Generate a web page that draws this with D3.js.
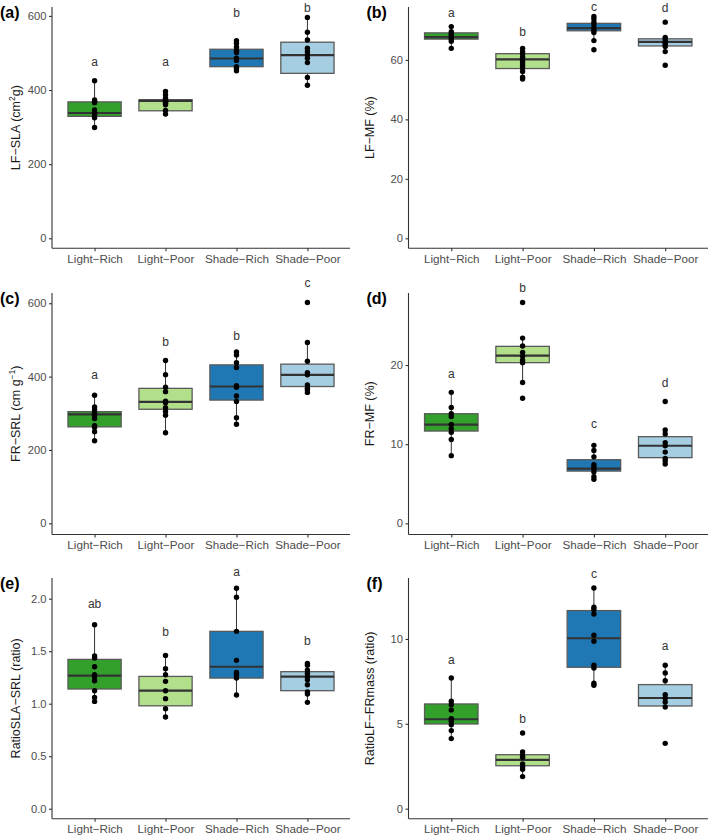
<!DOCTYPE html>
<html><head><meta charset="utf-8">
<script src="https://cdn.jsdelivr.net/npm/d3@7"></script>
<style>
html,body{margin:0;padding:0;background:#fff;}
svg{display:block;font-family:"Liberation Sans",Arial,Helvetica,sans-serif;}
</style></head>
<body>
<svg id="chart" width="709" height="838"></svg>
<script>
// ---------- DATA ----------
const categories = ["Light\u2212Rich","Light\u2212Poor","Shade\u2212Rich","Shade\u2212Poor"];
const groupColors = ["#33a02c","#b2df8a","#1f78b4","#a6cee3"];

// (a) LF-SLA
const slaPoints = [
  [425,373,369,366,346,338,335,330,325,299],
  [396,387,378,373,370,367,364,360,345,335],
  [533,526,516,506,501,486,480,463,458,452],
  [596,556,535,513,504,495,486,474,434,413]];
const slaBoxes = [[329,338,368],[344,371,374],[463,485,510],[445,494,529]];
const slaLetters = ["a","a","b","b"];
const slaLetterY = [477,477,609,621];
const slaTicks = [0,200,400,600];

// (b) LF-MF
const lfmfPoints = [
  [71.2,69.5,68.7,68.1,67.5,67.0,66.3,63.9],
  [63.9,62.8,62.0,60.9,60.0,59.1,58.2,57.3,56.1,54.2,53.6],
  [74.6,73.8,72.7,71.8,70.7,69.9,69.2,66.5,63.4],
  [72.7,67.6,66.7,65.9,65.3,64.5,62.8,58.2]];
const lfmfBoxes = [[67.0,67.7,69.1],[57.1,60.2,62.1],[69.8,70.7,72.3],[64.7,66.1,67.1]];
const lfmfLetters = ["a","b","c","d"];
const lfmfLetterY = [75.7,69.5,77.7,77.4];
const lfmfTicks = [0,20,40,60];

// (c) FR-SRL
const srlPoints = [
  [349,317,309,302,295,286,266,261,250,225],
  [444,405,371,359,333,329,315,305,295,247],
  [467,459,438,425,375,371,347,332,288,270],
  [602,493,442,411,405,377,368,364,357]];
const srlBoxes = [[263,297,304.5],[311,331,368],[336,373,432],[373,405,434]];
const srlLetters = ["a","b","b","c"];
const srlLetterY = [406,495,511,656];
const srlTicks = [0,200,400,600];

// (d) FR-MF
const frmfPoints = [
  [16.55,14.65,13.85,13.5,12.5,11.96,11.5,10.6,8.55],
  [27.9,23.4,22.4,21.6,21.1,20.6,20.3,17.8,15.8],
  [9.85,9.2,8.4,7.4,7.15,6.86,6.5,5.9,5.56],
  [15.4,11.8,11.3,10.2,9.8,9.0,8.2,7.9,7.5]];
const frmfBoxes = [[11.66,12.46,13.85],[20.3,21.2,22.36],[6.6,6.9,8.04],[8.3,9.8,10.95]];
const frmfLetters = ["a","b","c","d"];
const frmfLetterY = [18.9,29.7,12.55,17.8];
const frmfTicks = [0,10,20];

// (e) RatioSLA-SRL
const ratioSrlPoints = [
  [1.752,1.454,1.435,1.352,1.276,1.254,1.219,1.124,1.06,1.022],
  [1.46,1.333,1.276,1.213,1.124,1.048,0.952,0.873],
  [2.10,2.013,1.689,1.413,1.298,1.276,1.244,1.083],
  [1.384,1.365,1.32,1.289,1.257,1.229,1.181,1.111,1.092,1.013]];
const ratioSrlBoxes = [[1.14,1.267,1.422],[0.98,1.124,1.26],[1.244,1.352,1.689],[1.124,1.257,1.305]];
const ratioSrlLetters = ["ab","b","a","b"];
const ratioSrlLetterY = [1.952,1.689,2.254,1.603];
const ratioSrlTicks = [0,0.5,1.0,1.5,2.0];

// (f) RatioLF-FRmass
const ratioMassPoints = [
  [7.70,6.33,6.13,5.82,5.30,5.15,4.95,4.60,4.13],
  [4.46,3.34,3.14,3.03,2.63,2.48,2.32,1.89],
  [13.0,11.87,11.73,11.47,10.22,9.86,8.45,8.29,7.39,7.27],
  [8.45,8.0,7.54,6.72,6.52,6.29,5.99,3.85]];
const ratioMassBoxes = [[4.99,5.27,6.17],[2.53,2.87,3.18],[8.33,10.04,11.67],[6.05,6.52,7.31]];
const ratioMassLetters = ["a","b","c","a"];
const ratioMassLetterY = [8.78,5.30,13.83,9.57];
const ratioMassTicks = [0,5,10];

// ---------- PANELS ----------
const panels = [
  {tag:"(a)", title:["LF\u2212SLA (cm","2","g)"], pts:slaPoints, box:slaBoxes, let:slaLetters, letY:slaLetterY, ticks:slaTicks, fmt:d3.format("d"), dom:[-27,624], col:0, row:0},
  {tag:"(b)", title:["LF\u2212MF (%)"], pts:lfmfPoints, box:lfmfBoxes, let:lfmfLetters, letY:lfmfLetterY, ticks:lfmfTicks, fmt:d3.format("d"), dom:[-3.36,77.8], col:1, row:0},
  {tag:"(c)", title:["FR\u2212SRL (cm g","\u22121",")"], pts:srlPoints, box:srlBoxes, let:srlLetters, letY:srlLetterY, ticks:srlTicks, fmt:d3.format("d"), dom:[-30.5,628], col:0, row:1},
  {tag:"(d)", title:["FR\u2212MF (%)"], pts:frmfPoints, box:frmfBoxes, let:frmfLetters, letY:frmfLetterY, ticks:frmfTicks, fmt:d3.format("d"), dom:[-1.41,29.1], col:1, row:1},
  {tag:"(e)", title:["RatioSLA\u2212SRL (ratio)"], pts:ratioSrlPoints, box:ratioSrlBoxes, let:ratioSrlLetters, letY:ratioSrlLetterY, ticks:ratioSrlTicks, fmt:d3.format(".1f"), dom:[-0.095,2.197], col:0, row:2},
  {tag:"(f)", title:["RatioLF\u2212FRmass (ratio)"], pts:ratioMassPoints, box:ratioMassBoxes, let:ratioMassLetters, letY:ratioMassLetterY, ticks:ratioMassTicks, fmt:d3.format("d"), dom:[-0.59,13.59], col:1, row:2}
];

const colX = [{x0:0, left:52, right:350},{x0:354, left:408.5, right:708}];
const rowY = [{top:7, bottom:248.3},{top:293, bottom:534.5},{top:578, bottom:818.7}];

const svg = d3.select("#chart");
const axisCol = "#333";
const tickTextCol = "#4d4d4d";

panels.forEach(p => {
  const c = colX[p.col], r = rowY[p.row];
  const g = svg.append("g");
  const x = d3.scalePoint().domain(categories).range([c.left, c.right]).padding(0.6);
  const y = d3.scaleLinear().domain(p.dom).range([r.bottom, r.top]);
  const bw = x.step()*0.75;

  categories.forEach((cat, i) => {
    const [q1, med, q3] = p.box[i];
    const iqr = q3 - q1;
    const pts = p.pts[i];
    const inside = pts.filter(v => v >= q1 - 1.5*iqr && v <= q3 + 1.5*iqr);
    const wLo = Math.min(q1, d3.min(inside)), wHi = Math.max(q3, d3.max(inside));
    const cx = x(cat);
    g.append("line").attr("x1",cx).attr("x2",cx).attr("y1",y(wLo)).attr("y2",y(q1))
      .attr("stroke","#333").attr("stroke-width",1);
    g.append("line").attr("x1",cx).attr("x2",cx).attr("y1",y(q3)).attr("y2",y(wHi))
      .attr("stroke","#333").attr("stroke-width",1);
    g.append("rect").attr("x",cx-bw/2).attr("width",bw)
      .attr("y",y(q3)).attr("height",y(q1)-y(q3))
      .attr("fill",groupColors[i]).attr("stroke","#5a5a5a").attr("stroke-width",1.3);
    g.append("line").attr("x1",cx-bw/2).attr("x2",cx+bw/2).attr("y1",y(med)).attr("y2",y(med))
      .attr("stroke","#333").attr("stroke-width",2.2);
    g.selectAll(null).data(pts).enter().append("circle")
      .attr("cx",cx).attr("cy",d=>y(d)).attr("r",2.7).attr("fill","#000");
    g.append("text").attr("x",cx).attr("y",y(p.letY[i])).attr("dy","0.35em")
      .attr("text-anchor","middle").attr("font-size",12).attr("fill","#333").text(p.let[i]);
  });

  const ya = g.append("g").attr("transform",`translate(${c.left},0)`)
    .call(d3.axisLeft(y).tickValues(p.ticks).tickFormat(p.fmt).tickSize(3).tickPadding(2.5));
  ya.select(".domain").attr("d",`M0,${r.top}V${r.bottom}`).attr("stroke",axisCol).attr("stroke-width",1.1);
  ya.selectAll(".tick line").attr("stroke",axisCol).attr("stroke-width",1.1);
  ya.selectAll(".tick text").attr("font-size",11.2).attr("fill",tickTextCol).attr("font-family","Liberation Sans,Arial,sans-serif");

  const xa = g.append("g").attr("transform",`translate(0,${r.bottom})`)
    .call(d3.axisBottom(x).tickSize(3).tickPadding(3));
  xa.select(".domain").attr("d",`M${c.left},0H${c.right}`).attr("stroke",axisCol).attr("stroke-width",1.1);
  xa.selectAll(".tick line").attr("stroke",axisCol).attr("stroke-width",1.1);
  xa.selectAll(".tick text").attr("font-size",11.7).attr("fill",tickTextCol).attr("font-family","Liberation Sans,Arial,sans-serif");

  const ty = (r.top + r.bottom)/2;
  const tx = c.x0 + 19.5;
  const t = g.append("text").attr("transform",`translate(${tx},${ty}) rotate(-90)`)
    .attr("text-anchor","middle").attr("font-size",12.5).attr("fill","#1a1a1a");
  t.append("tspan").text(p.title[0]);
  if (p.title.length > 1) {
    t.append("tspan").attr("font-size",8.5).attr("dy",-4.5).text(p.title[1]);
    t.append("tspan").attr("dy",4.5).text(p.title[2]);
  }

  g.append("text").attr("x", c.x0 + (p.col ? 12.5 : 0)).attr("y", r.top + 11)
    .attr("font-size",16).attr("font-weight","bold").attr("fill","#000").text(p.tag);
});
</script>
</body></html>
